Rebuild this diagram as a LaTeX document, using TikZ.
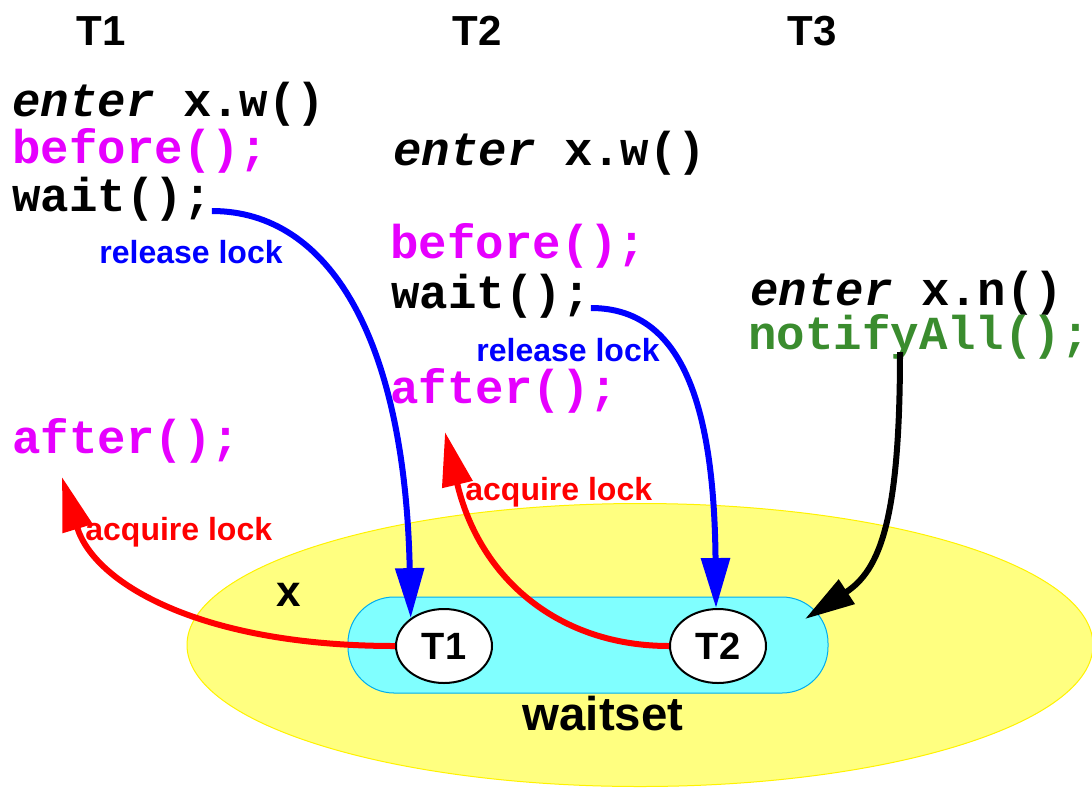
\documentclass[tikz,border=0pt]{standalone}
\usepackage{fontspec}
\setmainfont{Liberation Sans}
\newfontfamily\codefont{Liberation Mono}
\usetikzlibrary{arrows.meta,shapes.geometric}
\definecolor{mag}{RGB}{230,0,255}
\definecolor{grn}{RGB}{58,140,46}
\definecolor{ylw}{RGB}{255,255,128}
\definecolor{cyn}{RGB}{128,255,255}
\begin{document}
\begin{tikzpicture}[x=0.5pt,y=-0.5pt,
  code/.style={anchor=base west, inner sep=0pt, font=\codefont\bfseries\fontsize{23.7}{28}\selectfont},
  lbl/.style={anchor=base west, inner sep=0pt, font=\bfseries\fontsize{16}{19}\selectfont},
  hdr/.style={anchor=base, inner sep=0pt, font=\bfseries\fontsize{21}{25}\selectfont},
  thr/.style={ellipse, draw=black, line width=1pt, fill=white, minimum width=48pt, minimum height=37pt, inner sep=0pt, font=\bfseries\fontsize{19}{22}\selectfont},
  arr/.style={line width=3pt, -{Triangle[length=25pt,width=14pt]}},
  redarr/.style={line width=3pt, red, -{Triangle[length=27pt,width=15pt]}}
]
\useasboundingbox (0,0) rectangle (1092,788);
% object and waitset
\node[ellipse, fill=ylw, draw=yellow, line width=0.5pt, minimum width=453pt, minimum height=141.5pt, inner sep=0pt] (obj) at (640,645) {};
\node[fill=cyn, draw=cyan, line width=0.5pt, rounded corners=23pt, minimum width=240pt, minimum height=48pt, inner sep=0pt] (ws) at (588,645) {};
\node[anchor=base, inner sep=0pt, font=\bfseries\fontsize{22}{26}\selectfont] (xl) at (289,606) {x};
\node[anchor=base, inner sep=0pt, font=\bfseries\fontsize{23.7}{28}\selectfont] (wsl) at (603,730) {waitset};
\node[thr] (t1) at (444,646) {T1};
\node[thr] (t2) at (718,646) {T2};
% headers
\node[hdr] (h1) at (101,45) {T1};
\node[hdr] (h2) at (477,45) {T2};
\node[hdr] (h3) at (812,45) {T3};
% T1 code
\node[code] (e1) at (12,116) {\itshape enter\upshape{} x.w()};
\node[code, text=mag] (b1) at (12,163.5) {before();};
\node[code] (w1) at (12,211) {wait();};
\node[code, text=mag] (a1) at (12,453) {after();};
% T2 code
\node[code] (e2) at (393,165) {\itshape enter\upshape{} x.w()};
\node[code, text=mag] (b2) at (390,258) {before();};
\node[code] (w2) at (391,308) {wait();};
\node[code, text=mag] (a2) at (390,403) {after();};
% T3 code
\node[code] (e3) at (750,305) {\itshape enter\upshape{} x.n()};
\node[code, text=grn] (n3) at (748,349) {notifyAll();};
% labels
\node[lbl, text=blue] (rl1) at (99,263) {release lock};
\node[lbl, text=blue] (rl2) at (476,361) {release lock};
\node[lbl, text=red] (al1) at (85,540) {acquire lock};
\node[lbl, text=red] (al2) at (465,500) {acquire lock};
% connectors
\coordinate (nstart) at (900,352);
\coordinate (ntip) at (805,619);
\coordinate (r1tip) at (62,477);
\coordinate (r2tip) at (445,432);
\draw[arr, blue] (w1.base east) .. controls (330,211) and (405,340) .. (t1.140);
\draw[arr, blue] (w2.base east) .. controls (680,308) and (714,400) .. (t2.93);
\draw[arr, black] (nstart) .. controls (900,520) and (880,570) .. (ntip);
\draw[redarr] (t1.west) .. controls (200,646) and (94,583) .. (r1tip);
\draw[redarr] (t2.west) .. controls (560,646) and (480,580) .. (r2tip);
\end{tikzpicture}
\end{document}
